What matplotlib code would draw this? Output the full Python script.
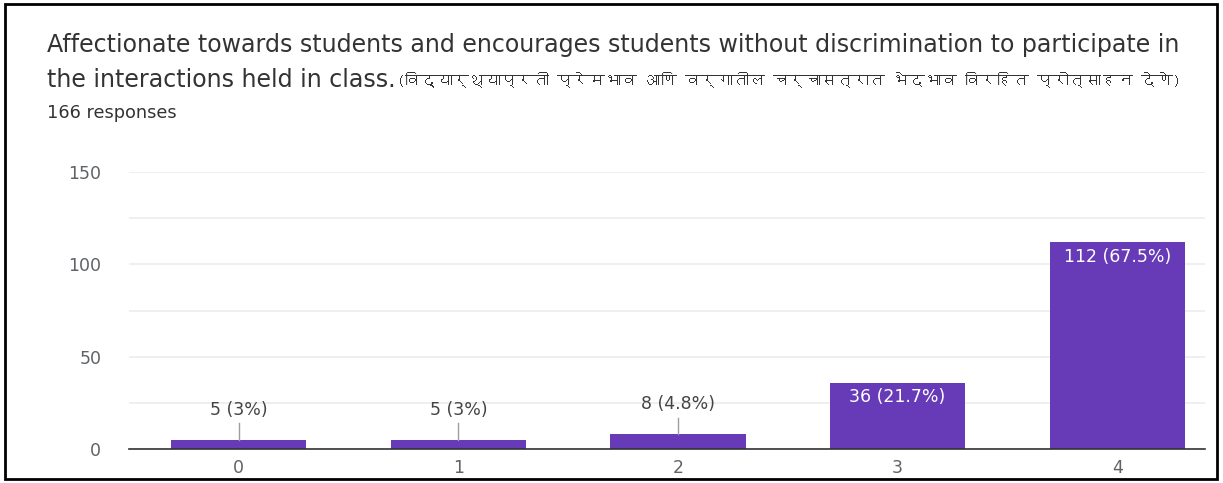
import matplotlib
matplotlib.use("Agg")
import matplotlib.pyplot as plt
from matplotlib import font_manager
from matplotlib.ft2font import FT2Font
from matplotlib.patches import Rectangle

# Survey results
categories = ["0", "1", "2", "3", "4"]
counts = [5, 5, 8, 36, 112]
percents = ["3%", "3%", "4.8%", "21.7%", "67.5%"]
title_en_1 = "Affectionate towards students and encourages students without discrimination to participate in"
title_en_2 = "the interactions held in class."
title_mr = "(विद्यार्थ्याप्रती प्रेमभाव आणि वर्गातील चर्चासत्रात भेदभाव विरहित प्रोत्साहन देणे)"
subtitle = "166 responses"
yticks = [0, 50, 100, 150]

purple = "#673ab7"
grey_text = "#5f6368"
title_color = "#333333"
W, H = 1223, 483


def find_devanagari_font():
    # first installed family that has Devanagari glyphs
    for f in font_manager.fontManager.ttflist:
        try:
            cmap = FT2Font(f.fname).get_charmap()
        except Exception:
            continue
        if 0x0935 in cmap and 0x0930 in cmap:
            return f.name
    return None


def fit_width(txt, width_px):
    # rescale a text so that it spans width_px pixels
    r = fig.canvas.get_renderer()
    w = txt.get_window_extent(r).width
    txt.set_fontsize(txt.get_fontsize() * width_px / w)
    return txt


deva = find_devanagari_font()
mr_family = ([deva] if deva else []) + ["DejaVu Sans"]

fig = plt.figure(figsize=(W / 100, H / 100), dpi=100)
ax = fig.add_axes([129 / W, 1 - 449 / H, (1205 - 129) / W, (449 - 172) / H])

x = list(range(len(categories)))
bars = ax.bar(x, counts, width=0.615, color=purple, zorder=3)

ax.set_ylim(0, 150)
ax.set_xlim(-0.5, 4.4)
ax.set_yticks(yticks)
ax.set_yticks([25, 75, 125], minor=True)
ax.set_xticks(x)
ax.set_xticklabels(categories)
ax.grid(axis="y", which="both", color="#ececec", linewidth=1.2, zorder=0)
ax.tick_params(axis="both", which="both", length=0, labelsize=12.5, labelcolor=grey_text)
ax.tick_params(axis="y", pad=20)
ax.tick_params(axis="x", pad=7)
for lab in ax.get_xticklabels() + ax.get_yticklabels():
    lab.set_fontfamily("DejaVu Sans")
for side in ["top", "right", "left"]:
    ax.spines[side].set_visible(False)
ax.spines["bottom"].set_color("#333333")
ax.spines["bottom"].set_linewidth(1.2)
ax.spines["bottom"].set_zorder(4)

for xi, c, p in zip(x, counts, percents):
    label = f"{c} ({p})"
    if c > 20:
        ax.text(xi, c - 3.2, label, ha="center", va="top", color="white",
                fontsize=12.5, family="DejaVu Sans", zorder=5)
    else:
        ax.plot([xi, xi], [c, c + 9], color="#9e9e9e", linewidth=1, zorder=4)
        ax.text(xi, c + 11.5, label, ha="center", va="bottom", color="#444444",
                fontsize=12.5, family="DejaVu Sans", zorder=5)

# heading
t1 = fig.text(47 / W, 1 - 45 / H, title_en_1, fontsize=16, color=title_color,
              family="DejaVu Sans", va="center", ha="left")
fit_width(t1, 1188 - 47)
t2 = fig.text(47 / W, 1 - 80 / H, title_en_2, fontsize=t1.get_fontsize(), color=title_color,
              family="DejaVu Sans", va="center", ha="left")
t3 = fig.text(397 / W, 1 - 80 / H, title_mr, fontsize=16, color=title_color,
              family=mr_family, va="center", ha="left")
fit_width(t3, 1180 - 397)
t4 = fig.text(47 / W, 1 - 113 / H, subtitle, fontsize=11, color=title_color,
              family="DejaVu Sans", va="center", ha="left")
fit_width(t4, 177 - 47)

# frame around the card
fig.patches.append(Rectangle((5 / W, 4 / H), 1212 / W, 475 / H,
                             transform=fig.transFigure, fill=False,
                             edgecolor="black", linewidth=2))

fig.savefig("out.png", dpi=100)
